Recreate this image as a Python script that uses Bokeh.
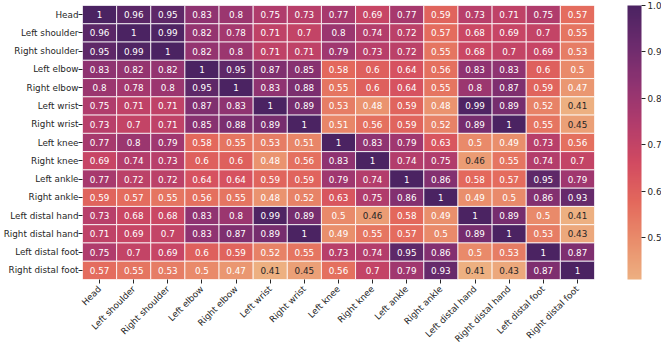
import math

from bokeh.core.properties import value
from bokeh.embed import file_html
from bokeh.models import (BasicTicker, ColorBar, ColumnDataSource, FactorRange,
                          LinearColorMapper, PrintfTickFormatter)
from bokeh.plotting import figure
from bokeh.resources import INLINE

# Body keypoints (same order on both axes)
parts = ["Head", "Left shoulder", "Right shoulder", "Left elbow", "Right elbow",
         "Left wrist", "Right wrist", "Left knee", "Right knee", "Left ankle",
         "Right ankle", "Left distal hand", "Right distal hand",
         "Left distal foot", "Right distal foot"]

# Pairwise correlation, one row per keypoint
head = [1, 0.96, 0.95, 0.83, 0.8, 0.75, 0.73, 0.77, 0.69, 0.77, 0.59, 0.73, 0.71, 0.75, 0.57]
left_shoulder = [0.96, 1, 0.99, 0.82, 0.78, 0.71, 0.7, 0.8, 0.74, 0.72, 0.57, 0.68, 0.69, 0.7, 0.55]
right_shoulder = [0.95, 0.99, 1, 0.82, 0.8, 0.71, 0.71, 0.79, 0.73, 0.72, 0.55, 0.68, 0.7, 0.69, 0.53]
left_elbow = [0.83, 0.82, 0.82, 1, 0.95, 0.87, 0.85, 0.58, 0.6, 0.64, 0.56, 0.83, 0.83, 0.6, 0.5]
right_elbow = [0.8, 0.78, 0.8, 0.95, 1, 0.83, 0.88, 0.55, 0.6, 0.64, 0.55, 0.8, 0.87, 0.59, 0.47]
left_wrist = [0.75, 0.71, 0.71, 0.87, 0.83, 1, 0.89, 0.53, 0.48, 0.59, 0.48, 0.99, 0.89, 0.52, 0.41]
right_wrist = [0.73, 0.7, 0.71, 0.85, 0.88, 0.89, 1, 0.51, 0.56, 0.59, 0.52, 0.89, 1, 0.55, 0.45]
left_knee = [0.77, 0.8, 0.79, 0.58, 0.55, 0.53, 0.51, 1, 0.83, 0.79, 0.63, 0.5, 0.49, 0.73, 0.56]
right_knee = [0.69, 0.74, 0.73, 0.6, 0.6, 0.48, 0.56, 0.83, 1, 0.74, 0.75, 0.46, 0.55, 0.74, 0.7]
left_ankle = [0.77, 0.72, 0.72, 0.64, 0.64, 0.59, 0.59, 0.79, 0.74, 1, 0.86, 0.58, 0.57, 0.95, 0.79]
right_ankle = [0.59, 0.57, 0.55, 0.56, 0.55, 0.48, 0.52, 0.63, 0.75, 0.86, 1, 0.49, 0.5, 0.86, 0.93]
left_distal_hand = [0.73, 0.68, 0.68, 0.83, 0.8, 0.99, 0.89, 0.5, 0.46, 0.58, 0.49, 1, 0.89, 0.5, 0.41]
right_distal_hand = [0.71, 0.69, 0.7, 0.83, 0.87, 0.89, 1, 0.49, 0.55, 0.57, 0.5, 0.89, 1, 0.53, 0.43]
left_distal_foot = [0.75, 0.7, 0.69, 0.6, 0.59, 0.52, 0.55, 0.73, 0.74, 0.95, 0.86, 0.5, 0.53, 1, 0.87]
right_distal_foot = [0.57, 0.55, 0.53, 0.5, 0.47, 0.41, 0.45, 0.56, 0.7, 0.79, 0.93, 0.41, 0.43, 0.87, 1]

rows = [head, left_shoulder, right_shoulder, left_elbow, right_elbow, left_wrist,
        right_wrist, left_knee, right_knee, left_ankle, right_ankle,
        left_distal_hand, right_distal_hand, left_distal_foot, right_distal_foot]

# "flare"-like sequential colormap: light orange -> dark purple
stops = ["#edb081", "#e98d6b", "#e3685c", "#d14a61", "#b13c6c",
         "#8f3371", "#6c2b6d", "#4b2362"]


def hex_to_rgb(h):
    return tuple(int(h[i:i + 2], 16) for i in (1, 3, 5))


def build_palette(colors, n=256):
    rgb = [hex_to_rgb(c) for c in colors]
    out = []
    for k in range(n):
        t = k / (n - 1) * (len(rgb) - 1)
        i = min(int(t), len(rgb) - 2)
        f = t - i
        c = [round(rgb[i][j] + (rgb[i + 1][j] - rgb[i][j]) * f) for j in range(3)]
        out.append("#%02x%02x%02x" % tuple(c))
    return out


palette = build_palette(stops)
lo = min(min(r) for r in rows)
hi = max(max(r) for r in rows)
mapper = LinearColorMapper(palette=palette, low=lo, high=hi)

xs, ys, vals, labels, text_colors = [], [], [], [], []
for name_row, row in zip(parts, rows):
    for name_col, v in zip(parts, row):
        xs.append(name_col)
        ys.append(name_row)
        vals.append(v)
        labels.append(f"{v:.2g}")
        text_colors.append("#262626" if v < 0.465 else "#ffffff")

src = ColumnDataSource(dict(x=xs, y=ys, v=vals, label=labels, tc=text_colors))

FONT = "DejaVu Sans"
FS = "8.8px"

p = figure(
    x_range=FactorRange(*parts),
    y_range=FactorRange(*reversed(parts)),
    frame_width=512, frame_height=274,
    min_border_left=0, min_border_top=5, min_border_bottom=0, min_border_right=0,
    output_backend="svg", toolbar_location=None,
)
p.outline_line_color = None
p.grid.grid_line_color = None
p.background_fill_color = "white"

p.rect(x="x", y="y", width=1, height=1, source=src,
       fill_color={"field": "v", "transform": mapper},
       line_color="white", line_width=0.8)

p.text(x="x", y="y", text="label", source=src, text_align="center",
       text_baseline="middle", text_color="tc", text_font=value(FONT),
       text_font_size=FS)

for ax in (p.xaxis[0], p.yaxis[0]):
    ax.axis_line_color = None
    ax.major_tick_line_color = "#262626"
    ax.major_tick_out = 4
    ax.major_tick_in = 0
    ax.major_label_standoff = 0
    ax.major_label_text_font = FONT
    ax.major_label_text_font_size = FS
    ax.major_label_text_color = "#262626"
p.xaxis.major_label_standoff = 4
p.xaxis.major_label_orientation = math.pi / 4

cb = ColorBar(
    color_mapper=mapper,
    ticker=BasicTicker(desired_num_ticks=6),
    formatter=PrintfTickFormatter(format="%.1f"),
    width=14, height=274,
    location="center_left",
    margin=0, padding=33,
    bar_line_color=None,
    background_fill_alpha=0,
    border_line_color=None,
    major_tick_line_color="#262626",
    major_tick_out=4, major_tick_in=0,
    minor_tick_line_color=None,
    label_standoff=2,
    major_label_text_font=FONT,
    major_label_text_font_size=FS,
    major_label_text_color="#262626",
)
p.add_layout(cb, "right")

open("out.html", "w").write(file_html(p, INLINE))
